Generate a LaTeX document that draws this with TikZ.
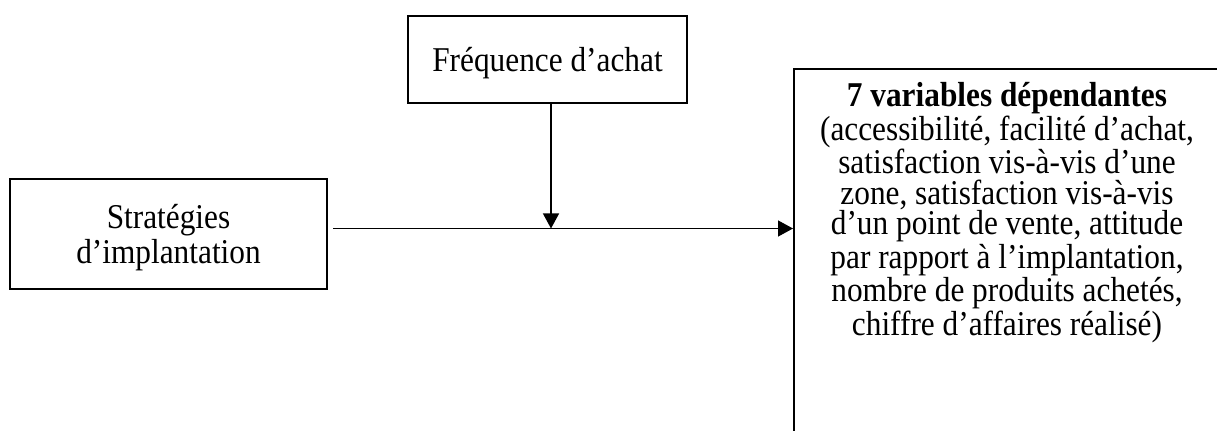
\documentclass[tikz,border=0pt]{standalone}
\usepackage{fontspec}
\setmainfont[FakeStretch=0.9]{Liberation Serif}
\usetikzlibrary{positioning,arrows.meta,calc}
\tikzset{
  box/.style={draw,line width=1.2pt,align=center,inner sep=0pt,text depth=0pt,font=\fontsize{19.8}{20.3}\selectfont},
  txt/.style={align=center,inner sep=0pt,font=\fontsize{19.8}{17.3}\selectfont},
  arr/.style={-{Triangle[length=3mm,width=3.2mm]},line width=0.7pt},
}
\begin{document}
\begin{tikzpicture}
\useasboundingbox (0,0) rectangle (24.34,8.6);
\node[box, minimum width=6.34cm, minimum height=2.2cm] (strat) at (3.37,3.92) {Stratégies\\d’implantation};
\node[box, minimum width=5.58cm, minimum height=1.74cm] (freq) at (10.95,7.41) {Fréquence d’achat};
\node[box, anchor=north west, minimum width=8.6cm, minimum height=8cm] (dep) at (15.86,7.24) {};
\node[txt, anchor=north] (deplist) at (20.14,6.96) {\textbf{7 variables dépendantes}\\(accessibilité, facilité d’achat,\\satisfaction vis-à-vis d’une\\zone, satisfaction vis-à-vis\\d’un point de vente, attitude\\par rapport à l’implantation,\\nombre de produits achetés,\\chiffre d’affaires réalisé)};
\coordinate (start) at (6.66,4.03);
\coordinate (join) at (11.02,4.03);
\draw[arr] (start) -- (start -| dep.west);
\draw[arr] (freq.south -| join) -- (join);
\end{tikzpicture}
\end{document}
